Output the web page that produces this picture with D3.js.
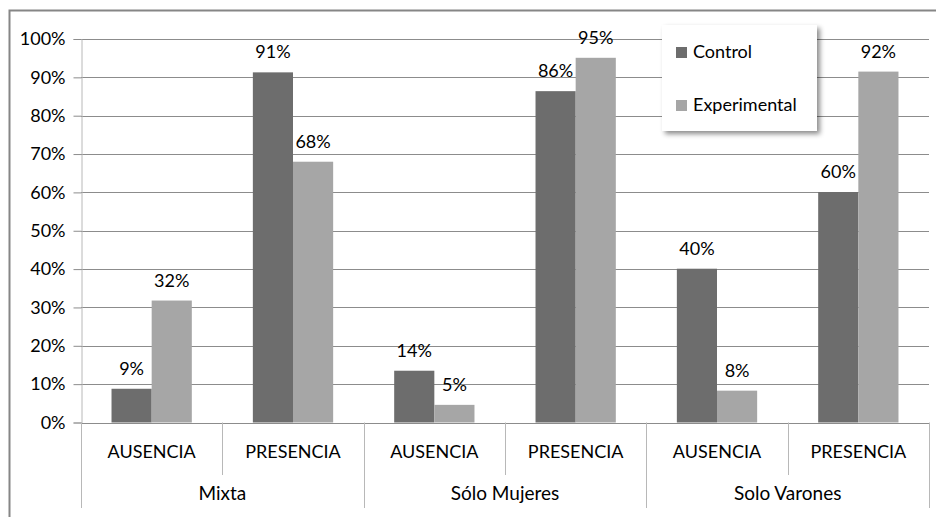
<!DOCTYPE html>
<html>
<head>
<meta charset="utf-8">
<script src="https://cdn.jsdelivr.net/npm/d3@7"></script>
<style>
  html, body { margin: 0; padding: 0; background: #fff; }
  svg { display: block; }
  text { font-family: Lato, "Open Sans", sans-serif; fill: #000; }
</style>
</head>
<body>
<svg id="chart" width="936" height="517"></svg>
<script>
// Share of responses per group (Mixta, Sólo Mujeres, Solo Varones) and condition
const groups = ["Mixta", "Sólo Mujeres", "Solo Varones"];
const subcats = ["AUSENCIA", "PRESENCIA"];
const series = ["Control", "Experimental"];
const controlValues      = [0.088, 0.913, 0.135, 0.864, 0.401, 0.601];
const experimentalValues = [0.318, 0.680, 0.046, 0.951, 0.083, 0.915];
const yTicks = [0, 0.1, 0.2, 0.3, 0.4, 0.5, 0.6, 0.7, 0.8, 0.9, 1.0];

const colors = { Control: "#6d6d6d", Experimental: "#a6a6a6" };

// Flattened category list: one entry per group × subcategory
const cats = [];
groups.forEach((g, gi) => subcats.forEach((s, si) => {
  const i = gi * subcats.length + si;
  cats.push({ id: i, group: g, sub: s, Control: controlValues[i], Experimental: experimentalValues[i] });
}));

const svg = d3.select("#chart");
const plotLeft = 81, plotRight = 929, plotTop = 39, plotBottom = 422.5;

// Outer chart frame
svg.append("rect")
  .attr("x", 9.5).attr("y", 10.5)
  .attr("width", 940).attr("height", 530)
  .attr("fill", "none").attr("stroke", "#868686").attr("stroke-width", 2);

const x0 = d3.scaleBand().domain(cats.map(d => d.id)).range([plotLeft, plotRight]).padding(0);
const x1 = d3.scaleBand().domain(series).range([0, x0.bandwidth()]).paddingInner(0).paddingOuter(0.76);
const y = d3.scaleLinear().domain([0, 1]).range([plotBottom, plotTop]);

// Horizontal gridlines
svg.append("g")
  .selectAll("line").data(yTicks.slice(1)).join("line")
  .attr("x1", plotLeft).attr("x2", plotRight)
  .attr("y1", d => Math.round(y(d)) + 0.5).attr("y2", d => Math.round(y(d)) + 0.5)
  .attr("stroke", "#8c8c8c").attr("stroke-width", 1);

// Y axis
const yAxis = svg.append("g")
  .attr("transform", `translate(${plotLeft + 0.5},0)`)
  .call(d3.axisLeft(y).tickValues(yTicks).tickFormat(d3.format(".0%")).tickSize(8).tickPadding(8));
yAxis.select(".domain").attr("stroke", "#b8b8b8");
yAxis.selectAll(".tick line").attr("stroke", "#8c8c8c");
yAxis.selectAll(".tick text").attr("font-size", 18).attr("fill", "#000")
  .style("font-family", "Lato, 'Open Sans', sans-serif");

// Bars
const catG = svg.append("g").selectAll("g").data(cats).join("g")
  .attr("transform", d => `translate(${x0(d.id)},0)`);

catG.selectAll("rect").data(d => series.map(s => ({ s, v: d[s] }))).join("rect")
  .attr("x", d => x1(d.s))
  .attr("width", x1.bandwidth())
  .attr("y", d => y(d.v))
  .attr("height", d => y(0) - y(d.v))
  .attr("fill", d => colors[d.s]);

// Value labels
catG.selectAll("text.val").data(d => series.map(s => ({ s, v: d[s] }))).join("text")
  .attr("class", "val")
  .attr("x", d => x1(d.s) + x1.bandwidth() / 2)
  .attr("y", d => y(d.v) - 14)
  .attr("text-anchor", "middle")
  .attr("font-size", 18)
  .text(d => d3.format(".0%")(d.v));

// Bottom axis baseline
svg.append("line")
  .attr("x1", plotLeft).attr("x2", plotRight)
  .attr("y1", Math.round(plotBottom) + 0.5).attr("y2", Math.round(plotBottom) + 0.5)
  .attr("stroke", "#8c8c8c");

// Category separators: short ones between subcategories, long ones between groups
const innerBottom = 475, outerBottom = 508;
const bounds = d3.range(cats.length + 1);
svg.append("g").selectAll("line").data(bounds).join("line")
  .attr("x1", i => Math.round(i < cats.length ? x0(i) : plotRight) + 0.5)
  .attr("x2", i => Math.round(i < cats.length ? x0(i) : plotRight) + 0.5)
  .attr("y1", plotBottom)
  .attr("y2", i => (i % subcats.length === 0) ? outerBottom : innerBottom)
  .attr("stroke", "#b8b8b8");

// Subcategory labels
svg.append("g").selectAll("text").data(cats).join("text")
  .attr("x", d => x0(d.id) + x0.bandwidth() / 2)
  .attr("y", 458)
  .attr("text-anchor", "middle")
  .attr("font-size", 18)
  .text(d => d.sub);

// Group labels
svg.append("g").selectAll("text").data(groups).join("text")
  .attr("x", (g, gi) => x0(gi * subcats.length) + x0.bandwidth())
  .attr("y", 500)
  .attr("text-anchor", "middle")
  .attr("font-size", 19)
  .text(g => g);

// Legend with drop shadow
const defs = svg.append("defs");
const f = defs.append("filter").attr("id", "shadow").attr("x", "-10%").attr("y", "-10%").attr("width", "130%").attr("height", "130%");
f.append("feDropShadow").attr("dx", 3).attr("dy", 3).attr("stdDeviation", 2.5).attr("flood-color", "#000").attr("flood-opacity", 0.45);

const legend = svg.append("g").attr("transform", "translate(662,25)");
legend.append("rect").attr("width", 155).attr("height", 106).attr("fill", "#fff").attr("filter", "url(#shadow)");
series.forEach((s, i) => {
  const gy = 22 + i * 53;
  legend.append("rect").attr("x", 14).attr("y", gy).attr("width", 11).attr("height", 11).attr("fill", colors[s]);
  legend.append("text").attr("x", 31).attr("y", gy + 11).attr("font-size", 18).text(s);
});
</script>
</body>
</html>
